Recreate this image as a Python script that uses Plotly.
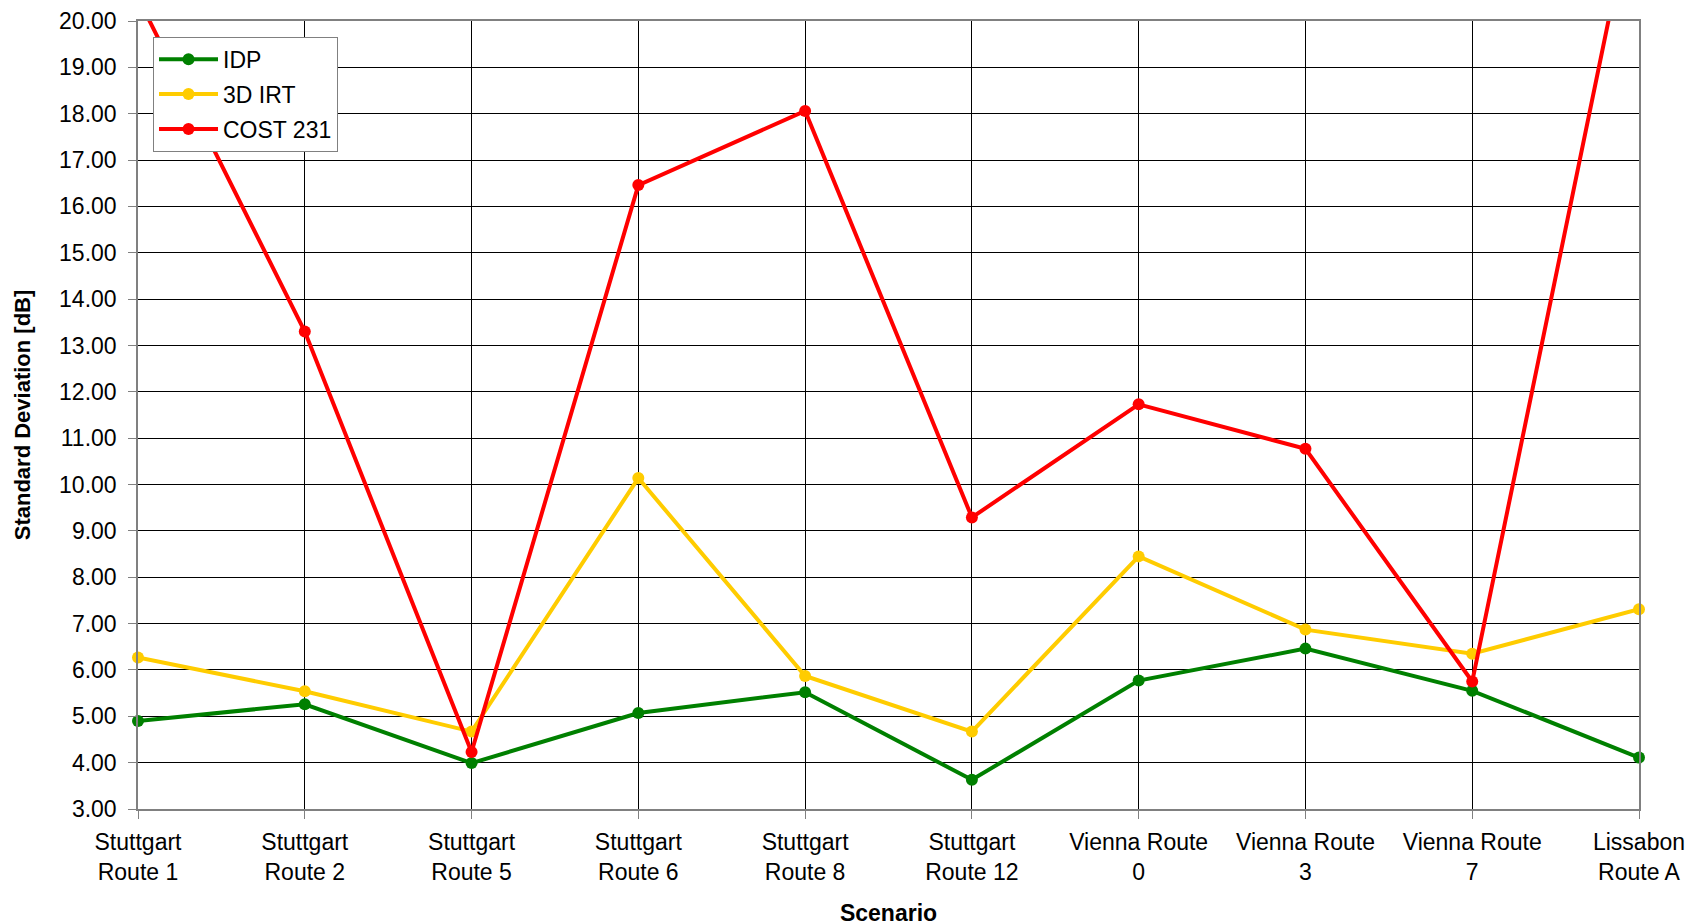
import plotly.graph_objects as go

categories = ["Stuttgart<br>Route 1", "Stuttgart<br>Route 2", "Stuttgart<br>Route 5",
              "Stuttgart<br>Route 6", "Stuttgart<br>Route 8", "Stuttgart<br>Route 12",
              "Vienna Route<br>0", "Vienna Route<br>3", "Vienna Route<br>7",
              "Lissabon<br>Route A"]

idp = [4.90, 5.26, 3.99, 5.07, 5.52, 3.63, 5.77, 6.46, 5.55, 4.11]
irt3d = [6.27, 5.54, 4.67, 10.14, 5.87, 4.67, 8.45, 6.87, 6.35, 7.31]
cost231 = [20.50, 13.30, 4.23, 16.46, 18.06, 9.29, 11.73, 10.77, 5.75, 23.20]

FONT = "Liberation Sans, Arial, sans-serif"

fig = go.Figure()
fig.add_trace(go.Scatter(x=categories, y=idp, name="IDP", mode="lines+markers",
                         legendgroup="a",
                         line=dict(color="#008000", width=4),
                         marker=dict(color="#008000", size=12), cliponaxis=False))
fig.add_trace(go.Scatter(x=categories, y=irt3d, name="3D IRT", mode="lines+markers",
                         legendgroup="b",
                         line=dict(color="#FFCC00", width=4),
                         marker=dict(color="#FFCC00", size=12), cliponaxis=False))
fig.add_trace(go.Scatter(x=categories, y=cost231, name="COST 231", mode="lines+markers",
                         legendgroup="c",
                         line=dict(color="#FF0000", width=4),
                         marker=dict(color="#FF0000", size=12), cliponaxis=True))

fig.update_layout(
    width=1705, height=924,
    margin=dict(l=130, r=74, t=13, b=123, autoexpand=False),
    paper_bgcolor="white", plot_bgcolor="white",
    font=dict(family=FONT, size=23, color="black"),
    showlegend=True,
    legend=dict(x=0.01, y=0.98, xanchor="left", yanchor="top",
                bgcolor="white", bordercolor="#808080", borderwidth=1,
                font=dict(family=FONT, size=23, color="black"),
                tracegroupgap=2, itemwidth=59),
)

fig.update_xaxes(
    type="category", range=[0, 9], showgrid=True, gridcolor="#000000", gridwidth=1,
    showline=True, linecolor="#808080", linewidth=1.5, mirror=True,
    ticks="outside", ticklen=8, tickcolor="#808080", tickwidth=1,
    ticklabelstandoff=4,
    tickfont=dict(family=FONT, size=23, color="black"),
    title=dict(text="<b>Scenario</b>", font=dict(family=FONT, size=23, color="black"),
               standoff=21),
    automargin=False, zeroline=False,
)
fig.update_yaxes(
    range=[3, 20], dtick=1, tickformat=".2f", showgrid=True, gridcolor="#000000", gridwidth=1,
    showline=True, linecolor="#808080", linewidth=1.5, mirror=True,
    ticks="outside", ticklen=8, tickcolor="#808080", tickwidth=1,
    ticklabelstandoff=7, ticklabeloverflow="allow",
    tickfont=dict(family=FONT, size=23, color="black"),
    title=dict(text="<b>Standard Deviation [dB]</b>", font=dict(family=FONT, size=22, color="black"),
               standoff=22),
    automargin=False, zeroline=False,
)

fig.write_html("out.html")
